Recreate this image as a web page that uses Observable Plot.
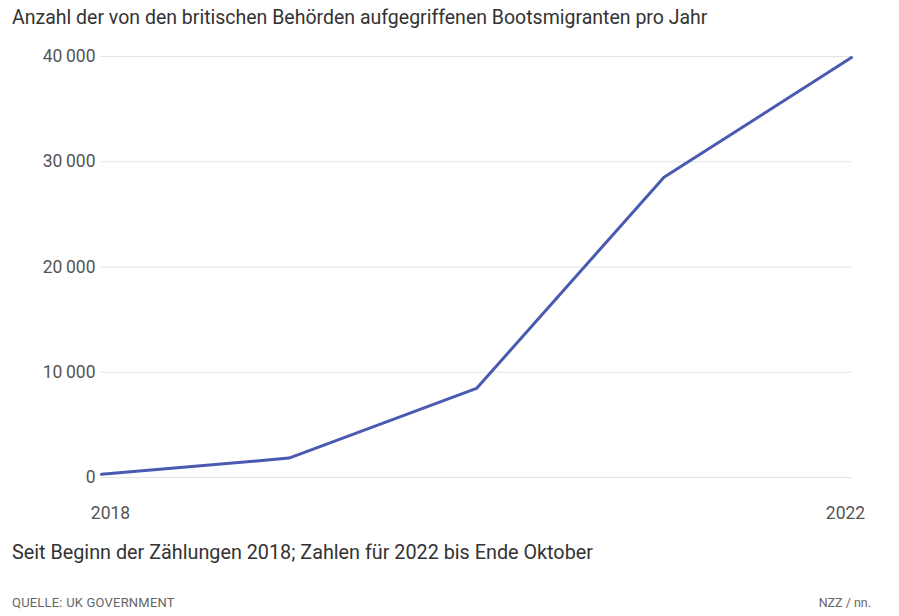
<!DOCTYPE html>
<html>
<head>
<meta charset="utf-8">
<script src="https://cdn.jsdelivr.net/npm/d3@7"></script>
<script src="https://cdn.jsdelivr.net/npm/@observablehq/plot@0.6"></script>
<style>
  html, body { margin: 0; padding: 0; background: #fff; }
  body { width: 899px; height: 616px; position: relative; overflow: hidden;
         font-family: "Roboto", "Liberation Sans", sans-serif; }
  .sub { position: absolute; left: 12px; top: 6px; font-size: 19.5px; color: #333; line-height: 24px; }
  #chart { position: absolute; left: 0; top: 36px; }
  .cap { position: absolute; left: 12px; top: 541px; font-size: 19.8px; color: #333; line-height: 24px; }
  .src { position: absolute; left: 12px; top: 595px; font-size: 13px; color: #666; letter-spacing: 0.2px; }
  .brand { position: absolute; right: 28px; top: 595px; font-size: 12.5px; color: #666; }
</style>
</head>
<body>
<div class="sub">Anzahl der von den britischen Behörden aufgegriffenen Bootsmigranten pro Jahr</div>
<div id="chart"></div>
<div class="cap">Seit Beginn der Zählungen 2018; Zahlen für 2022 bis Ende Oktober</div>
<div class="src">QUELLE: UK GOVERNMENT</div>
<div class="brand">NZZ / nn.</div>
<script>
const years = [2018, 2019, 2020, 2021, 2022];
const migrants = [299, 1843, 8466, 28526, 39900];
const yTicks = [0, 10000, 20000, 30000, 40000];
const xTicksLeft = [2018];
const xTicksRight = [2022];

const data = years.map((y, i) => ({year: y, value: migrants[i]}));
const fmt = v => v === 0 ? "0" : d3.format(",")(v).replace(/,/g, "\u2009");

const chart = Plot.plot({
  width: 899,
  height: 492,
  marginTop: 20,
  marginBottom: 51,
  marginLeft: 101,
  marginRight: 48,
  style: { fontFamily: '"Roboto", sans-serif', fontSize: "17px", color: "#555", background: "transparent" },
  x: { domain: [2018, 2022], label: null },
  y: { domain: [0, 40000], label: null },
  marks: [
    Plot.gridY(yTicks, { stroke: "#e3e3e3", strokeOpacity: 1, strokeWidth: 1 }),
    Plot.axisY({ ticks: yTicks, tickFormat: fmt, tickSize: 0, tickPadding: 6, fill: "#555", fontSize: 17.5 }),
    Plot.axisX({ ticks: xTicksLeft, tickFormat: d => String(d), tickSize: 0, tickPadding: 29, dx: 9, fill: "#555", fontSize: 17.5 }),
    Plot.axisX({ ticks: xTicksRight, tickFormat: d => String(d), tickSize: 0, tickPadding: 29, dx: -6, fill: "#555", fontSize: 17.5 }),
    Plot.line(data, { x: "year", y: "value", stroke: "#4a5ab0", strokeWidth: 3, curve: "linear" })
  ]
});
document.getElementById("chart").appendChild(chart);
</script>
</body>
</html>
